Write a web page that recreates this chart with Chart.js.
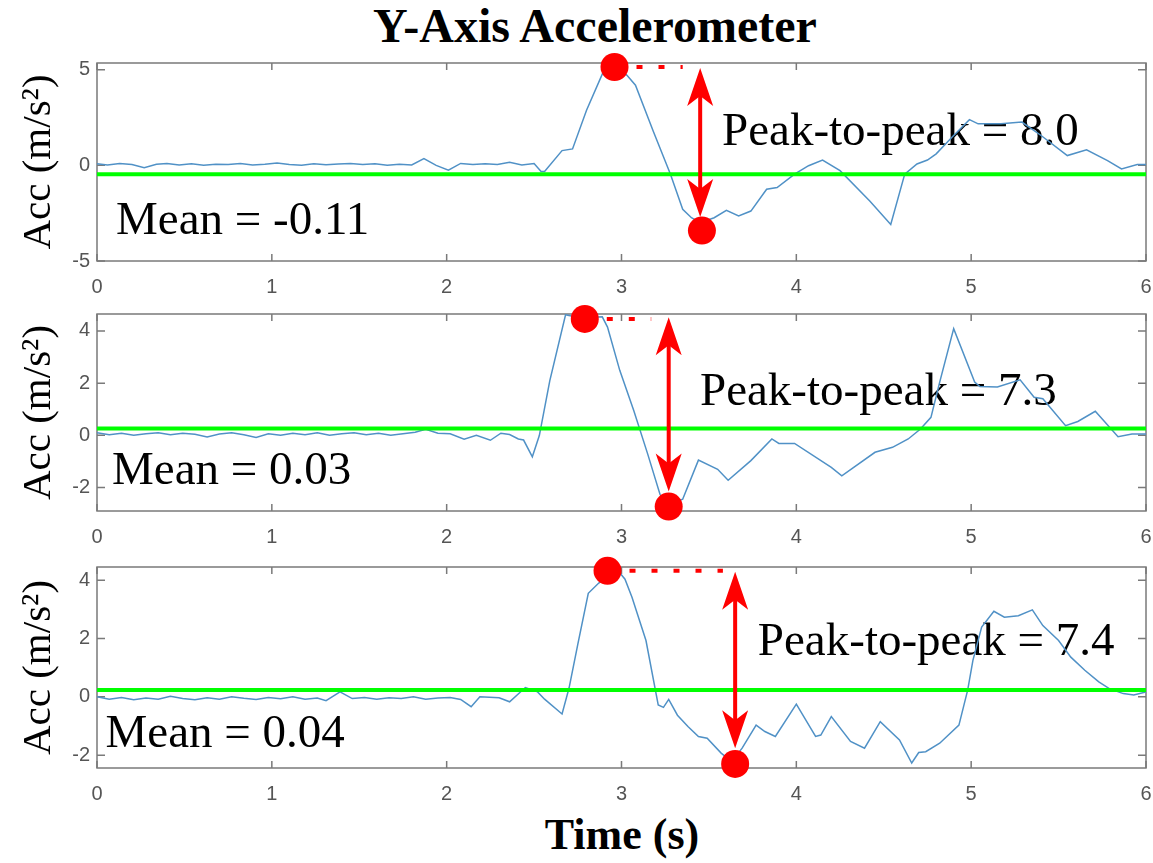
<!DOCTYPE html>
<html>
<head>
<meta charset="utf-8">
<script src="https://cdn.jsdelivr.net/npm/chart.js@4.4.0/dist/chart.umd.min.js"></script>
<style>
body { margin: 0; background: #fff; }
#fig { position: relative; width: 1153px; height: 863px; overflow: hidden; }
canvas { position: absolute; left: 0; }
.lbl { position: absolute; font-family: 'Liberation Serif', 'Times New Roman', serif; font-weight: bold;
       color: #000; white-space: nowrap; transform: translateX(-50%); line-height: 1; }
</style>
</head>
<body>
<div id="fig">
  <div class="lbl" style="left:595px; top:2px; font-size:48px;">Y-Axis Accelerometer</div>
  <canvas id="c1" width="1153" height="254" style="top:47px"></canvas>
  <canvas id="c2" width="1153" height="253" style="top:298px"></canvas>
  <canvas id="c3" width="1153" height="257" style="top:551px"></canvas>
  <div class="lbl" style="left:622px; top:813px; font-size:44px;">Time (s)</div>
</div>
<script>
// x axis
const xTicks = [0, 1, 2, 3, 4, 5, 6];

// panel 1
const t1 = [0, 0.06, 0.13, 0.2, 0.27, 0.34, 0.4, 0.47, 0.54, 0.61,
  0.68, 0.75, 0.82, 0.89, 0.96, 1.03, 1.1, 1.17, 1.24, 1.31,
  1.38, 1.45, 1.52, 1.59, 1.66, 1.73, 1.8, 1.87, 1.94, 2.01,
  2.08, 2.15, 2.22, 2.29, 2.36, 2.43, 2.5, 2.54, 2.56, 2.66,
  2.72, 2.8, 2.9, 2.96, 3.03, 3.08, 3.18, 3.28, 3.35, 3.4,
  3.45, 3.53, 3.6, 3.67, 3.74, 3.83, 3.89, 3.99, 4.07, 4.15,
  4.25, 4.42, 4.54, 4.62, 4.69, 4.75, 4.8, 4.89, 4.99, 5.04,
  5.17, 5.29, 5.4, 5.55, 5.66, 5.78, 5.86, 5.95, 6.0];
const acc1 = [0.08, 0.02, 0.1, 0.04, -0.12, 0.06, 0.1, 0.02, 0.08, 0.0,
  0.06, 0.04, 0.1, 0.02, 0.06, 0.12, 0.05, 0.0, 0.08, 0.03,
  0.07, 0.1, 0.04, 0.08, 0.0, 0.06, 0.02, 0.35, 0.0, -0.25,
  0.1, 0.04, 0.08, 0.04, 0.16, 0.02, 0.1, -0.32, -0.32, 0.77,
  0.86, 2.88, 4.98, 5.25, 4.72, 4.19, 1.82, -0.46, -2.3, -2.74,
  -3.0, -2.74, -2.35, -2.65, -2.39, -1.25, -1.16, -0.46, -0.02, 0.28,
  -0.28, -1.86, -3.09, -0.46, 0.07, 0.28, 0.6, 1.47, 2.39, 2.17,
  2.17, 2.26, 1.56, 0.51, 0.81, 0.25, -0.19, 0.04, 0.04];
const yTicks1 = [-5, 0, 5];

// panel 2
const t2 = [0, 0.07, 0.14, 0.21, 0.28, 0.35, 0.42, 0.49, 0.56, 0.63,
  0.7, 0.77, 0.84, 0.91, 0.98, 1.05, 1.12, 1.19, 1.26, 1.33,
  1.4, 1.47, 1.54, 1.61, 1.68, 1.75, 1.82, 1.88, 1.95, 2.02,
  2.1, 2.17, 2.25, 2.31, 2.36, 2.41, 2.44, 2.49, 2.53, 2.59,
  2.68, 2.72, 2.78, 2.89, 2.92, 2.99, 3.07, 3.15, 3.22, 3.26,
  3.35, 3.44, 3.55, 3.61, 3.74, 3.86, 3.9, 3.99, 4.2, 4.26,
  4.45, 4.55, 4.64, 4.71, 4.77, 4.82, 4.9, 5.02, 5.05, 5.15,
  5.28, 5.36, 5.41, 5.54, 5.61, 5.71, 5.84, 5.92, 6.0];
const acc2 = [0.1, 0.02, 0.08, 0.0, 0.06, 0.1, 0.02, 0.08, 0.04, -0.06,
  0.05, 0.1, 0.02, -0.08, 0.06, 0.0, 0.08, 0.02, 0.1, 0.0,
  0.06, 0.1, 0.02, 0.08, 0.0, 0.06, 0.12, 0.23, 0.08, 0.06,
  -0.15, 0.0, -0.19, 0.08, 0.03, -0.14, -0.18, -0.82, -0.01, 2.1,
  4.62, 4.56, 4.51, 4.54, 4.15, 2.49, 0.95, -0.72, -2.26, -2.7,
  -2.45, -0.95, -1.3, -1.72, -0.97, -0.14, -0.31, -0.31, -1.23, -1.55,
  -0.65, -0.46, -0.14, 0.24, 0.69, 2.04, 4.09, 2.04, 1.87, 1.85,
  2.13, 1.46, 1.4, 0.37, 0.53, 0.92, -0.05, 0.05, 0.05];
const yTicks2 = [-2, 0, 2, 4];

// panel 3
const t3 = [0, 0.07, 0.14, 0.21, 0.28, 0.35, 0.42, 0.49, 0.56, 0.63,
  0.7, 0.77, 0.84, 0.91, 0.98, 1.05, 1.12, 1.19, 1.26, 1.31,
  1.39, 1.46, 1.53, 1.6, 1.67, 1.74, 1.81, 1.88, 1.95, 2.02,
  2.08, 2.14, 2.19, 2.3, 2.36, 2.45, 2.52, 2.56, 2.66, 2.7,
  2.75, 2.81, 2.87, 2.94, 2.99, 3.02, 3.06, 3.14, 3.21, 3.24,
  3.27, 3.32, 3.38, 3.44, 3.49, 3.57, 3.63, 3.69, 3.77, 3.82,
  3.88, 4.0, 4.11, 4.14, 4.2, 4.31, 4.39, 4.48, 4.59, 4.66,
  4.7, 4.74, 4.82, 4.93, 4.98, 5.01, 5.06, 5.13, 5.19, 5.27,
  5.35, 5.41, 5.5, 5.57, 5.65, 5.73, 5.79, 5.87, 5.93, 6.0];
const acc3 = [0.0, -0.08, -0.02, -0.1, -0.04, -0.08, 0.02, -0.06, -0.1, -0.03,
  -0.08, 0.0, -0.05, -0.09, -0.02, -0.07, 0.0, -0.08, -0.04, -0.13,
  0.17, -0.06, -0.02, -0.08, -0.03, -0.06, 0.0, -0.08, -0.04, -0.02,
  -0.09, -0.34, 0.0, -0.03, -0.17, 0.32, 0.17, -0.08, -0.59, 0.3,
  1.8, 3.55, 3.9, 4.2, 4.25, 4.03, 3.41, 1.93, -0.28, -0.36,
  -0.09, -0.63, -1.02, -1.36, -1.42, -1.93, -2.22, -1.76, -0.97, -1.19,
  -1.36, -0.25, -1.36, -1.31, -0.68, -1.53, -1.76, -0.85, -1.48, -2.27,
  -1.91, -1.88, -1.59, -0.97, 0.23, 1.25, 2.39, 2.93, 2.73, 2.78,
  2.98, 2.44, 1.93, 1.36, 0.91, 0.51, 0.28, 0.11, 0.06, 0.17];
const yTicks3 = [-2, 0, 2, 4];

// annotations (mean line level, peak / trough markers, labels)
const meanLevel = [-0.47, 0.26, 0.23];
const peakTime = [2.96, 2.79, 2.92];
const peakValue = [5.14, 4.46, 4.32];
const troughTime = [3.46, 3.27, 3.65];
const troughValue = [-3.41, -2.73, -2.3];
const peakLabels = ['Peak-to-peak = 8.0', 'Peak-to-peak = 7.3', 'Peak-to-peak = 7.4'];
const meanLabels = ['Mean = -0.11', 'Mean = 0.03', 'Mean = 0.04'];

// layout bits per panel, in axis units
const panelLayout = [
  {yMin: -5, yMax: 5.35, dotEnd: 3.35, arrowT: 3.45, arrowTop: 5.09, arrowBottom: -2.7, peakAt: [3.575, 1.05], meanAt: [0.109, -3.57]},
  {yMin: -2.9, yMax: 4.65, dotEnd: 3.17, arrowT: 3.27, arrowTop: 4.53, arrowBottom: -2.15, peakAt: [3.449, 1.15], meanAt: [0.086, -1.85]},
  {yMin: -2.44, yMax: 4.45, dotEnd: 3.58, arrowT: 3.65, arrowTop: 4.29, arrowBottom: -1.76, peakAt: [3.78, 1.43], meanAt: [0.049, -1.72]}
];

const RED = '#ff0000';
const BLUE = 'rgb(80,145,198)';
const GREEN = '#00ff00';
const FRAME = '#7a7a7a';
const TICKFONT = {family: "'Liberation Sans', Arial, sans-serif", size: 20};

function arrowHead(ctx, x, y, dir) {
  const L = 38, W = 13, N = 28;
  ctx.beginPath();
  ctx.moveTo(x, y);
  ctx.lineTo(x - W, y + dir * L);
  ctx.lineTo(x, y + dir * N);
  ctx.lineTo(x + W, y + dir * L);
  ctx.closePath();
  ctx.fill();
}

const decor = {
  id: 'decor',
  beforeDatasetsDraw(chart, args, opts) {
    const {ctx, chartArea: a, scales: {x, y}} = chart;
    const i = opts.index;
    const lay = panelLayout[i];
    ctx.save();
    // box + inward ticks
    ctx.strokeStyle = FRAME;
    ctx.lineWidth = 1.5;
    ctx.strokeRect(a.left, a.top, a.width, a.height);
    ctx.beginPath();
    x.ticks.forEach(t => {
      const px = x.getPixelForValue(t.value);
      ctx.moveTo(px, a.bottom); ctx.lineTo(px, a.bottom - 7);
      ctx.moveTo(px, a.top); ctx.lineTo(px, a.top + 7);
    });
    y.ticks.forEach(t => {
      const py = y.getPixelForValue(t.value);
      ctx.moveTo(a.left, py); ctx.lineTo(a.left + 8, py);
      ctx.moveTo(a.right, py); ctx.lineTo(a.right - 8, py);
    });
    ctx.stroke();
    // labels
    ctx.fillStyle = '#000';
    ctx.font = "47px 'Liberation Serif', 'Times New Roman', serif";
    ctx.textAlign = 'left';
    ctx.textBaseline = 'alphabetic';
    ctx.fillText(peakLabels[i], x.getPixelForValue(lay.peakAt[0]), y.getPixelForValue(lay.peakAt[1]));
    ctx.fillText(meanLabels[i], x.getPixelForValue(lay.meanAt[0]), y.getPixelForValue(lay.meanAt[1]));
    ctx.restore();
  },
  afterDatasetsDraw(chart, args, opts) {
    const {ctx, scales: {x, y}} = chart;
    const lay = panelLayout[opts.index];
    const ax = x.getPixelForValue(lay.arrowT);
    const y1 = y.getPixelForValue(lay.arrowTop);
    const y2 = y.getPixelForValue(lay.arrowBottom);
    ctx.save();
    ctx.strokeStyle = RED;
    ctx.fillStyle = RED;
    ctx.lineWidth = 4;
    ctx.beginPath();
    ctx.moveTo(ax, y1 + 26);
    ctx.lineTo(ax, y2 - 26);
    ctx.stroke();
    arrowHead(ctx, ax, y1, 1);
    arrowHead(ctx, ax, y2, -1);
    ctx.restore();
  }
};

function makePanel(id, i, times, values, yTicks) {
  const lay = panelLayout[i];
  const signal = times.map((t, k) => ({x: t, y: values[k]}));
  return new Chart(document.getElementById(id), {
    type: 'line',
    data: {
      datasets: [
        {data: [{x: peakTime[i], y: peakValue[i]}, {x: troughTime[i], y: troughValue[i]}],
         showLine: false, pointRadius: 14, pointBackgroundColor: RED, pointBorderWidth: 0, clip: false, order: 0},
        {data: [{x: peakTime[i], y: peakValue[i]}, {x: lay.dotEnd, y: peakValue[i]}],
         borderColor: RED, borderWidth: 4, borderDash: [6, 16], borderCapStyle: 'butt', pointRadius: 0, clip: false, order: 1},
        {data: [{x: 0, y: meanLevel[i]}, {x: 6, y: meanLevel[i]}],
         borderColor: GREEN, borderWidth: 4, pointRadius: 0, order: 2},
        {data: signal, borderColor: BLUE, borderWidth: 1.5, pointRadius: 0, tension: 0, order: 3}
      ]
    },
    options: {
      responsive: false,
      animation: false,
      devicePixelRatio: 1,
      layout: {autoPadding: false, padding: {top: 16, right: 7, left: 0, bottom: 0}},
      plugins: {legend: {display: false}, tooltip: {enabled: false}, decor: {index: i}},
      scales: {
        x: {
          type: 'linear', min: 0, max: 6,
          afterBuildTicks: s => { s.ticks = xTicks.map(v => ({value: v})); },
          afterFit: s => { s.height = 40; s.paddingLeft = 0; s.paddingRight = 0; },
          grid: {display: false, drawTicks: false},
          border: {display: false},
          ticks: {font: TICKFONT, color: '#555', padding: 14, maxRotation: 0, autoSkip: false}
        },
        y: {
          type: 'linear', min: lay.yMin, max: lay.yMax,
          afterBuildTicks: s => { s.ticks = yTicks.map(v => ({value: v})); },
          afterFit: s => { s.width = 97; s.paddingTop = 0; s.paddingBottom = 0; },
          grid: {display: false, drawTicks: false},
          border: {display: false},
          ticks: {font: TICKFONT, color: '#555', padding: 7},
          title: {display: true, text: 'Acc (m/s²)', color: '#000',
                  font: {family: "'Liberation Serif', 'Times New Roman', serif", size: 41},
                  padding: {top: 15, bottom: 0}}
        }
      }
    },
    plugins: [decor]
  });
}

makePanel('c1', 0, t1, acc1, yTicks1);
makePanel('c2', 1, t2, acc2, yTicks2);
makePanel('c3', 2, t3, acc3, yTicks3);
</script>
</body>
</html>
